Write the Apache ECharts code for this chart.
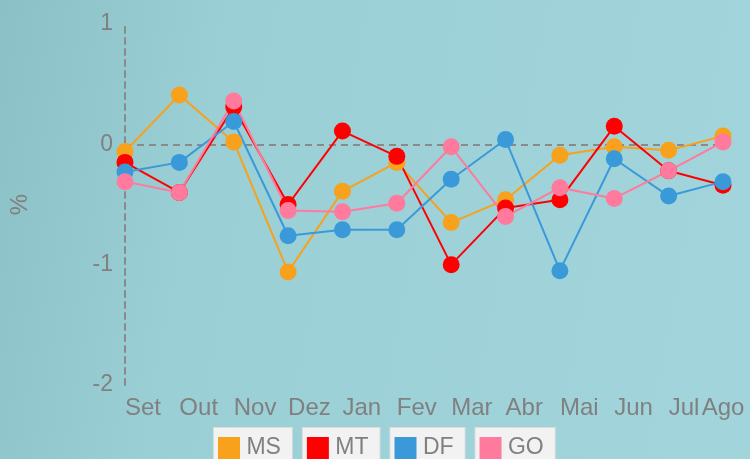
<!DOCTYPE html>
<html>
<head>
<meta charset="utf-8">
<script src="https://cdn.jsdelivr.net/npm/echarts@6/dist/echarts.min.js"></script>
<style>
  html, body { margin: 0; padding: 0; }
  #main { width: 750px; height: 459px; }
</style>
</head>
<body>
<div id="main"></div>
<script>
// meses (Set -> Ago)
var months = ['Set', 'Out', 'Nov', 'Dez', 'Jan', 'Fev', 'Mar', 'Abr', 'Mai', 'Jun', 'Jul', 'Ago'];
var yTicks = [-2, -1, 0, 1];

var ms = [-0.06, 0.41, 0.02, -1.06, -0.39, -0.15, -0.65, -0.46, -0.09, -0.02, -0.05, 0.07];
var mt = [-0.15, -0.40, 0.31, -0.50, 0.11, -0.10, -1.00, -0.53, -0.46, 0.15, -0.22, -0.34];
var df = [-0.23, -0.15, 0.19, -0.76, -0.71, -0.71, -0.29, 0.04, -1.05, -0.12, -0.43, -0.31];
var go = [-0.31, -0.40, 0.36, -0.55, -0.56, -0.49, -0.02, -0.60, -0.36, -0.45, -0.22, 0.02];

var names = ['MS', 'MT', 'DF', 'GO'];
var colors = ['#f7a11d', '#ff0000', '#3a9ad9', '#ff7a9c'];
var values = [ms, mt, df, go];

var myChart = echarts.init(document.getElementById('main'));

var rich = {};
names.forEach(function (n, i) {
  rich[n] = { backgroundColor: colors[i], width: 22, height: 22 };
});

var series = names.map(function (n, i) {
  var s = {
    name: n,
    type: 'line',
    data: values[i],
    symbol: 'circle',
    symbolSize: 17,
    lineStyle: { width: 2, color: colors[i] },
    itemStyle: { color: colors[i] }
  };
  if (i === 0) {
    // linha tracejada do zero
    s.markLine = {
      silent: true,
      symbol: 'none',
      label: { show: false },
      lineStyle: { color: '#8a8a8a', width: 2, type: [7, 5] },
      data: [{ yAxis: 0 }],
      z: 1
    };
  }
  return s;
});

var option = {
  backgroundColor: new echarts.graphic.LinearGradient(0, 0, 1, 0.3, [
    { offset: 0, color: '#8bc1c6' },
    { offset: 0.3, color: '#9acfd5' },
    { offset: 1, color: '#a1d5db' }
  ]),
  animation: false,
  color: colors,
  grid: { left: 124, right: 27, top: 24, bottom: 74 },
  legend: {
    left: 203,
    top: 422,
    itemGap: 4,
    itemWidth: 0,
    itemHeight: 0,
    data: names,
    formatter: function (n) { return '{' + n + '|} ' + n; },
    textStyle: {
      color: '#808080',
      fontSize: 23,
      lineHeight: 26,
      fontFamily: 'Liberation Sans',
      backgroundColor: '#f2f2f2',
      borderColor: '#dcdcdc',
      borderWidth: 1,
      padding: [7, 11, 7, 4],
      rich: rich
    }
  },
  xAxis: {
    type: 'category',
    boundaryGap: false,
    data: months.map(function (m, i) {
      return i === months.length - 1 ? { value: m, textStyle: { align: 'center' } } : m;
    }),
    axisLine: { show: false },
    axisTick: { show: false },
    splitLine: { show: false },
    axisLabel: {
      color: '#808080',
      fontSize: 24,
      fontFamily: 'Liberation Sans',
      align: 'left',
      margin: 11,
      interval: 0
    }
  },
  yAxis: {
    type: 'value',
    min: yTicks[0],
    max: yTicks[yTicks.length - 1],
    interval: 1,
    name: '%',
    nameLocation: 'middle',
    nameGap: 93,
    nameRotate: 90,
    nameTextStyle: { color: '#808080', fontSize: 24, fontFamily: 'Liberation Sans' },
    axisLine: { show: true, lineStyle: { color: '#8a8a8a', width: 2, type: [6, 5] } },
    axisTick: { show: false },
    splitLine: { show: false },
    axisLabel: {
      color: '#808080',
      fontSize: 23,
      fontFamily: 'Liberation Sans',
      margin: 12
    }
  },
  series: series
};

myChart.setOption(option);
</script>
</body>
</html>
